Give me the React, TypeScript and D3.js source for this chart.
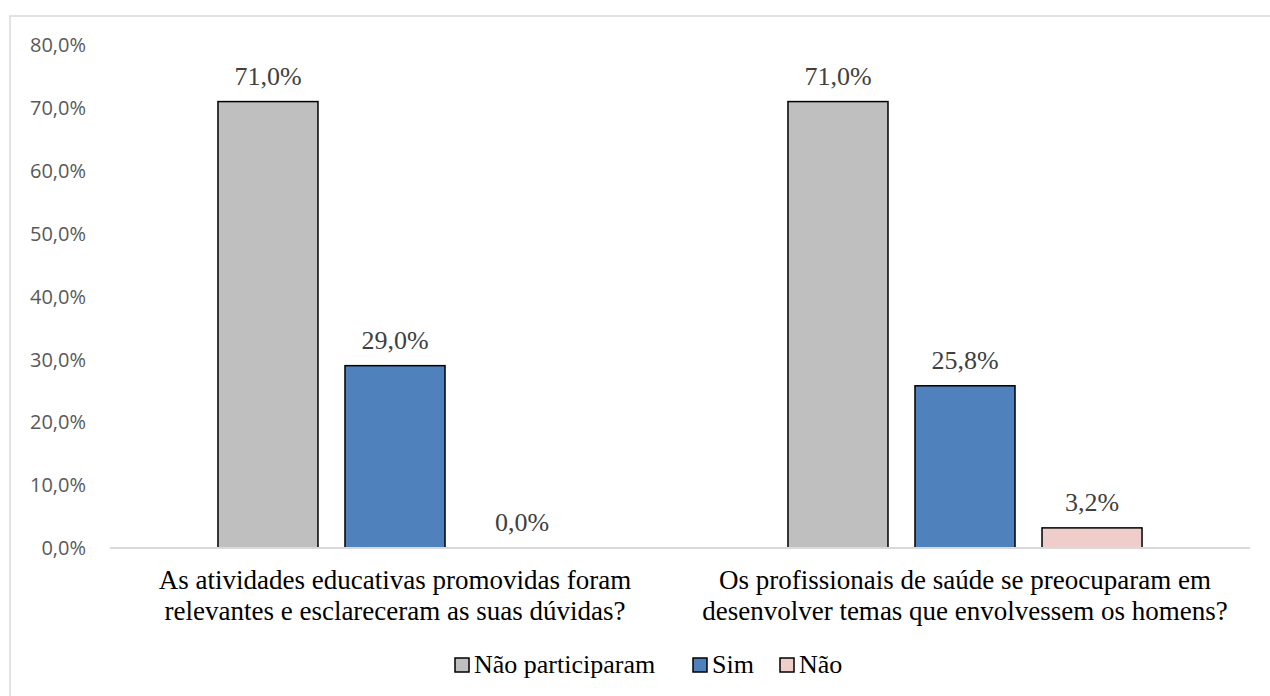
import React from "react";
import * as d3 from "d3";

// Survey questions (x-axis categories), each split over two lines
const categories = [
  "As atividades educativas promovidas foram relevantes e esclareceram as suas dúvidas?",
  "Os profissionais de saúde se preocuparam em desenvolver temas que envolvessem os homens?",
];
const categoryLines = [
  ["As atividades educativas promovidas foram", "relevantes e esclareceram as suas dúvidas?"],
  ["Os profissionais de saúde se preocuparam em", "desenvolver temas que envolvessem os homens?"],
];

// Response series
const seriesNames = ["Não participaram", "Sim", "Não"];
const seriesColors = ["#BFBFBF", "#4F81BD", "#EECDCA"];

// Percent values per series, one value per category
const naoParticiparam = [71.0, 71.0];
const sim = [29.0, 25.8];
const nao = [0.0, 3.2];
const seriesValues = [naoParticiparam, sim, nao];

const yTicks = [0, 10, 20, 30, 40, 50, 60, 70, 80];

const W = 1270;
const H = 696;
const plot = { left: 110, right: 1250, top: 45, bottom: 548 };

const fmt = (v: number) => v.toFixed(1).replace(".", ",") + "%";

const serifStyle: React.CSSProperties = {
  fontFamily: '"Liberation Serif", "Times New Roman", Tinos, "DejaVu Serif", serif',
};
const sansStyle: React.CSSProperties = {
  fontFamily: '"Open Sans", "Liberation Sans", sans-serif',
};

export default function App() {
  const x0 = d3
    .scaleBand<string>()
    .domain(categories)
    .range([plot.left, plot.right])
    .paddingInner(0)
    .paddingOuter(0);

  const x1 = d3
    .scaleBand<string>()
    .domain(seriesNames)
    .range([0, x0.bandwidth()])
    .paddingInner(0.2126)
    .paddingOuter(0.85);

  const y = d3.scaleLinear().domain([0, 80]).range([plot.bottom, plot.top]);

  // legend item left edges
  const legendX = [455, 693, 780];

  return (
    <div style={{ position: "absolute", left: 0, top: 0 }}>
      <svg width={W} height={H} style={{ display: "block" }}>
        <rect x={0} y={0} width={W} height={H} fill="#fff" />
        {/* chart frame */}
        <rect x={10} y={16} width={W + 40} height={H + 40} fill="none" stroke="#D9D9D9" strokeWidth={1.5} />

        {/* y-axis tick labels */}
        {yTicks.map((t) => (
          <text
            key={t}
            x={86}
            y={y(t)}
            dy="0.36em"
            textAnchor="end"
            style={sansStyle}
            fontSize={20}
            fill="#595959"
          >
            {fmt(t)}
          </text>
        ))}

        {/* bars */}
        {categories.map((c, ci) => (
          <g key={c} transform={`translate(${x0(c)},0)`}>
            {seriesNames.map((s, si) => {
              const v = seriesValues[si][ci];
              const bx = x1(s)!;
              const by = y(v);
              const bh = y(0) - y(v);
              return (
                <g key={s}>
                  {v > 0 && (
                    <rect
                      x={bx}
                      y={by}
                      width={x1.bandwidth()}
                      height={bh}
                      fill={seriesColors[si]}
                      stroke="#000"
                      strokeWidth={1.5}
                    />
                  )}
                  <text
                    x={bx + x1.bandwidth() / 2}
                    y={by - 17}
                    textAnchor="middle"
                    style={serifStyle}
                    fontSize={26}
                    fill="#404040"
                  >
                    {fmt(v)}
                  </text>
                </g>
              );
            })}
          </g>
        ))}

        {/* baseline */}
        <line x1={plot.left} x2={plot.right} y1={y(0)} y2={y(0)} stroke="#D9D9D9" strokeWidth={2} />

        {/* category labels */}
        {categories.map((c, ci) => (
          <text
            key={c}
            x={x0(c)! + x0.bandwidth() / 2}
            textAnchor="middle"
            style={serifStyle}
            fontSize={27}
            fill="#000"
          >
            {categoryLines[ci].map((line, li) => (
              <tspan key={li} x={x0(c)! + x0.bandwidth() / 2} y={589 + li * 31}>
                {line}
              </tspan>
            ))}
          </text>
        ))}

        {/* legend */}
        {seriesNames.map((s, si) => (
          <g key={s} transform={`translate(${legendX[si]},0)`}>
            <rect x={0} y={658} width={14} height={14} fill={seriesColors[si]} stroke="#000" strokeWidth={1.5} />
            <text x={19} y={673} style={serifStyle} fontSize={26} fill="#000">
              {s}
            </text>
          </g>
        ))}
      </svg>
    </div>
  );
}
